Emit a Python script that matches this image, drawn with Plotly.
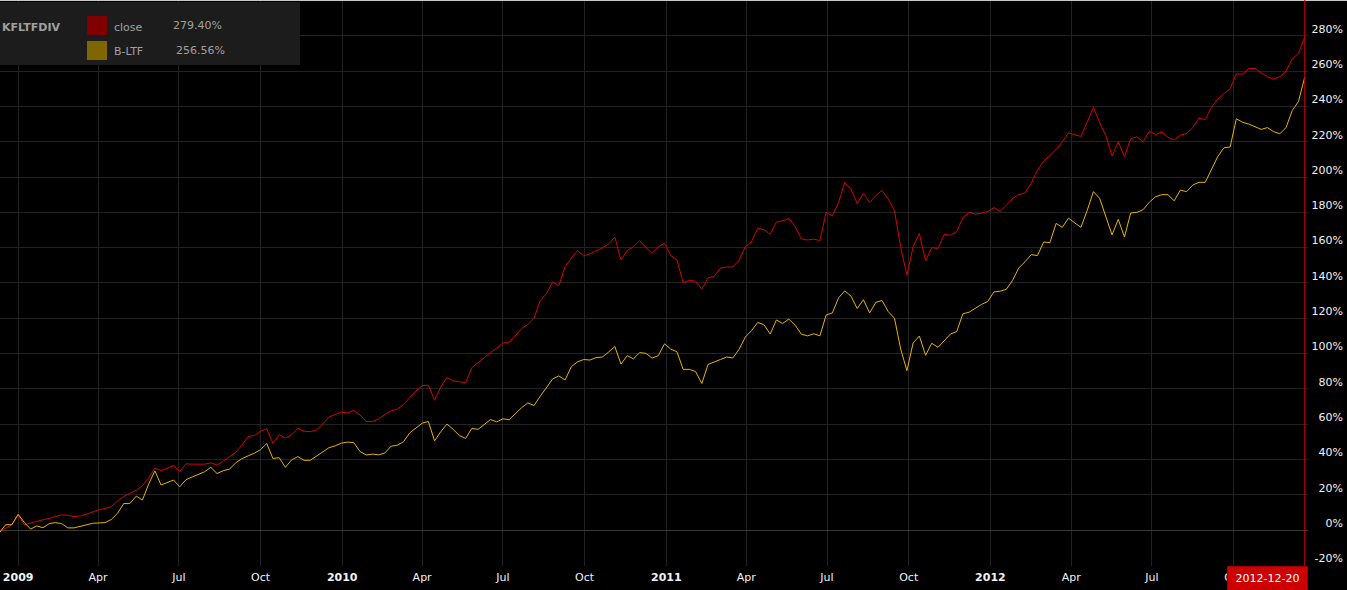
import plotly.graph_objects as go
import pandas as pd

# ---------------- data ----------------
fund_name = "KFLTFDIV"
series_names = ["close", "B-LTF"]
series_colors = ["#d90000", "#e6b400"]
swatch_colors = ["#800000", "#806600"]

# weekly observations (cumulative % change)
start_date = "2008-12-11"
close_pct = [
    -1, 1, 3, 8.5, 3, 4, 5, 5.8, 6.5, 7.8,
    8.5, 8.4, 7.6, 8, 8.9, 10.2, 11.5, 12.2, 13.2, 16.5,
    19, 20.8, 22.5, 25, 29.5, 35, 33.7, 35, 36.5, 33.2,
    37.5, 37.3, 37.2, 37.3, 38, 36.8, 39, 41.3, 44, 48,
    53, 53.5, 56, 57.4, 49, 54, 52, 54, 57.5, 56,
    55.7, 56.7, 60, 64, 65.5, 66.8, 66.3, 67.8, 65.2, 61.5,
    61.5, 63, 65.5, 67.5, 68.5, 71, 75, 78.8, 81.8, 82,
    73.5, 81, 86.5, 84.5, 84, 83.5, 92, 95, 98, 100.5,
    103, 106, 106.5, 110, 114.2, 116.3, 120, 130, 134, 140.5,
    138.5, 149.2, 154, 158.3, 155.3, 156.5, 158.2, 159.8, 162, 166,
    153, 158.3, 160.5, 164, 160, 156.8, 160.5, 162.5, 155.5, 153,
    140, 141.5, 141, 136.5, 142.8, 143.8, 148.5, 149, 149, 153,
    160.5, 163.4, 171, 170.2, 167.5, 174.5, 175.2, 176.5, 172.2, 165,
    164.3, 164.8, 164, 180, 178, 185.5, 197, 193, 185, 190.8,
    185.5, 189.5, 192.5, 187.5, 181, 160, 144.5, 160.5, 168, 152.5,
    160, 159.5, 167.5, 167, 169, 177, 180, 179, 179.5, 180.4,
    182.7, 180.5, 184, 187.9, 190, 191, 196.5, 204, 209, 212.5,
    215.5, 220, 225, 224, 223, 231, 239.5, 231, 223.5, 212,
    220, 211.5, 221.7, 222.8, 220, 226, 224, 225.5, 222.5, 221,
    223.8, 224.7, 228, 233.5, 232.5, 239.5, 244, 247.3, 250, 258.5,
    258.3, 261.5, 261.5, 259, 256.8, 255.5, 256.8, 260, 267, 270.1,
    279.40,
]
bltf_pct = [
    -1.5, 3, 3, 8.9, 4.3, 0.5, 2.3, 1.3, 3.6, 4.2,
    3.6, 1.2, 1.2, 2.2, 3, 3.8, 4, 4.2, 6, 9.5,
    15, 15.1, 19.2, 17, 26, 33.5, 25.5, 26.7, 28.3, 24.5,
    28.5, 30, 31.6, 33, 35.5, 32, 33.6, 34.5, 38, 40.4,
    42, 43.5, 45.5, 49, 40.5, 41, 35.5, 39.7, 41.6, 39.5,
    39.5, 42, 44.5, 46.6, 47.7, 49.2, 49.8, 49.5, 44.5, 42.5,
    43, 42.6, 43.6, 47.5, 48, 50, 55, 58, 60.5, 61.5,
    50.5, 55.7, 60, 57, 53.5, 51.9, 57.6, 57, 60, 62.6,
    61.3, 63, 62.5, 66.2, 69.3, 72, 70.5, 75.8, 81, 85.6,
    87.3, 85, 92.5, 95.3, 96.6, 96.3, 97.7, 98, 100.8, 104,
    94, 98.8, 97, 100.5, 100.1, 97.4, 98.8, 105.5, 102.5, 101,
    91, 91, 89.8, 83, 93.8, 95, 96.6, 98, 97.5, 102.4,
    109.3, 113, 117.6, 116.3, 111, 119, 117, 119.5, 116.1, 111,
    110, 111.2, 110, 121.8, 123, 131.5, 135.5, 132.5, 125.5, 130.5,
    123, 129, 130, 123.7, 120, 102.5, 90.3, 106, 109.9, 99,
    105.8, 103.5, 107, 111, 112.4, 122.5, 123.4, 125.7, 127.8, 129.5,
    134.9, 135.3, 136.4, 141.5, 148.5, 152, 156, 155.5, 163.2, 162.8,
    173.7, 171.5, 176.7, 174, 171.5, 181, 191.7, 188, 178, 167.2,
    176, 166, 179.6, 180, 181.5, 185.7, 188.8, 190, 190, 186.5,
    192.6, 191.7, 195.5, 197, 197, 204, 211.5, 216.6, 217, 233,
    231, 230, 228.5, 227, 228, 225.7, 224.5, 228, 237.7, 242.8,
    256.56,
]
dates = pd.date_range(start_date, periods=len(close_pct), freq="7D")

x_tick_vals = [
    "2009-01-01", "2009-04-01", "2009-07-01", "2009-10-01",
    "2010-01-01", "2010-04-01", "2010-07-01", "2010-10-01",
    "2011-01-01", "2011-04-01", "2011-07-01", "2011-10-01",
    "2012-01-01", "2012-04-01", "2012-07-01", "2012-10-01",
]
x_tick_text = [
    "<b>2009</b>", "Apr", "Jul", "Oct",
    "<b>2010</b>", "Apr", "Jul", "Oct",
    "<b>2011</b>", "Apr", "Jul", "Oct",
    "<b>2012</b>", "Apr", "Jul", "Oct",
]
y_tick_vals = [-20, 0, 20, 40, 60, 80, 100, 120, 140, 160, 180, 200, 220, 240, 260, 280]
y_tick_text = [f"{v}%" for v in y_tick_vals]

x_range = ["2008-12-11 14:00", "2012-12-23 17:00"]
y_range = [-20.4, 300.3]

# ---------------- figure ----------------
W, H = 1347, 590
MB = 24
PLOT_H = H - MB
PLOT_W = 1308
FONT = "DejaVu Sans"


def px(x):
    return x / W


def py(y):
    return (PLOT_H - y) / PLOT_H


fig = go.Figure()
for name, vals, col in zip(series_names, [close_pct, bltf_pct], series_colors):
    fig.add_trace(go.Scatter(
        x=dates, y=vals, mode="lines", name=name,
        line=dict(color=col, width=1), hoverinfo="skip",
    ))

grid = "#222222"
fig.update_layout(
    width=W, height=H,
    margin=dict(l=0, r=0, t=0, b=MB, pad=0),
    paper_bgcolor="#000000", plot_bgcolor="#000000",
    showlegend=False,
    font=dict(family=FONT, size=11, color="#f2f2f2"),
    xaxis=dict(
        domain=[0, PLOT_W / W], range=x_range, type="date",
        tickvals=x_tick_vals, ticktext=x_tick_text,
        showgrid=True, gridcolor=grid, gridwidth=1,
        zeroline=False, showline=False, ticks="",
        tickfont=dict(family=FONT, size=11, color="#f2f2f2"),
        ticklabelstandoff=3,
    ),
    yaxis=dict(
        range=y_range, tickvals=y_tick_vals, ticktext=y_tick_text,
        anchor="free", position=0.997, side="left",
        showgrid=True, gridcolor=grid, gridwidth=1,
        zeroline=True, zerolinecolor="#383838", zerolinewidth=1,
        showline=False, ticks="",
        tickfont=dict(family=FONT, size=11, color="#f2f2f2"),
        ticklabelshift=-7,
    ),
)

shapes = []
# top border
shapes.append(dict(type="rect", xref="paper", yref="paper",
                   x0=0, x1=1, y0=py(1), y1=py(0),
                   fillcolor="#c8c8c8", line=dict(width=0), layer="above"))
# legend panel
shapes.append(dict(type="rect", xref="paper", yref="paper",
                   x0=px(0), x1=px(300), y0=py(65), y1=py(2),
                   fillcolor="#1c1c1c", line=dict(width=0), layer="above"))
# swatches
for i, c in enumerate(swatch_colors):
    y0 = 16 + 25 * i
    shapes.append(dict(type="rect", xref="paper", yref="paper",
                       x0=px(87), x1=px(107), y0=py(y0 + 19), y1=py(y0),
                       fillcolor=c, line=dict(width=0), layer="above"))
# crosshair at last date
last_date = dates[-1]
shapes.append(dict(type="line", xref="x", yref="paper",
                   x0=last_date, x1=last_date, y0=0, y1=1,
                   line=dict(color="#cc0000", width=1), layer="above"))
fig.update_layout(shapes=shapes)

leg_col = "#a0a0a0"
ann = []
ann.append(dict(text="<b>" + fund_name + "</b>", xref="paper", yref="paper",
                x=px(0), y=py(27), xanchor="left", yanchor="middle",
                showarrow=False, font=dict(family=FONT, size=11, color=leg_col)))
last_vals = [close_pct[-1], bltf_pct[-1]]
val_x = [171, 174]
for i, (nm, v) in enumerate(zip(series_names, last_vals)):
    yc = 27 + 25 * i
    ann.append(dict(text=nm, xref="paper", yref="paper",
                    x=px(112), y=py(yc), xanchor="left", yanchor="middle",
                    showarrow=False, font=dict(family=FONT, size=11, color=leg_col)))
    ann.append(dict(text=f"{v:.2f}%", xref="paper", yref="paper",
                    x=px(val_x[i]), y=py(yc - 1), xanchor="left", yanchor="middle",
                    showarrow=False, font=dict(family=FONT, size=11, color=leg_col)))
# date box
ann.append(dict(text=last_date.strftime("%Y-%m-%d"), xref="paper", yref="paper",
                x=px(1308), y=0, xanchor="right", yanchor="top",
                showarrow=False, bgcolor="#cc0000", bordercolor="#a00000",
                borderwidth=1, borderpad=5, width=69,
                font=dict(family=FONT, size=11, color="#ffffff")))
fig.update_layout(annotations=ann)

fig.write_html(
    "out.html",
    config={"displayModeBar": False},
    post_script="document.body.style.margin='0';document.body.style.padding='0';",
)
